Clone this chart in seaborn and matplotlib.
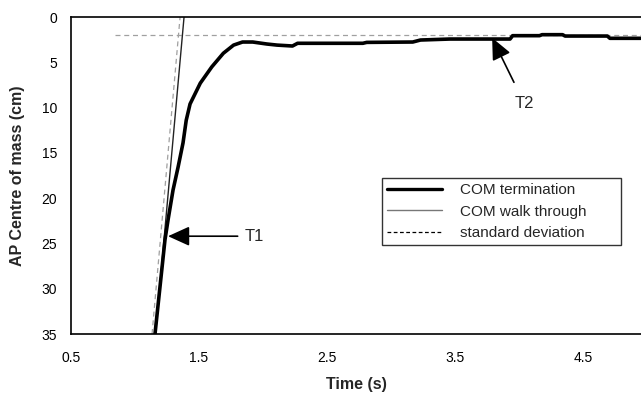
import numpy as np
import pandas as pd
import matplotlib
matplotlib.use("Agg")
import matplotlib.pyplot as plt
from matplotlib.lines import Line2D
import seaborn as sns

# 数据
term_t = [1.156, 1.195, 1.234, 1.258, 1.297, 1.336, 1.375, 1.40, 1.43, 1.51, 1.60, 1.69,
          1.77, 1.84, 1.92, 2.03, 2.11, 2.23, 2.27, 2.78, 2.81, 3.17, 3.23, 3.46, 3.93,
          3.95, 4.16, 4.18, 4.34, 4.36, 4.69, 4.71, 4.95]
term_y = [35, 29.8, 24.6, 22.4, 19.1, 16.6, 13.9, 11.4, 9.6, 7.3, 5.5, 4.0,
          3.1, 2.76, 2.76, 2.98, 3.1, 3.2, 2.9, 2.9, 2.8, 2.76, 2.54, 2.43, 2.43,
          2.06, 2.06, 1.95, 1.95, 2.1, 2.1, 2.35, 2.35]

walk_t = [1.16, 1.383]
walk_y = [35, 0]

sd_walk_t = [1.133, 1.352]
sd_walk_y = [35, 0]

sd_term_t = [0.84, 4.95]
sd_term_y = [2.0, 2.0]

x_ticks = [0.5, 1.5, 2.5, 3.5, 4.5]
y_ticks = [0, 5, 10, 15, 20, 25, 30, 35]

sns.set_style("white")
plt.rcParams['font.family'] = ['Liberation Sans', 'DejaVu Sans']

fig = plt.figure(figsize=(6.41, 3.95), dpi=100)
ax = fig.add_axes([0.1108, 0.1544, 0.8892, 0.8025])

df_term = pd.DataFrame({'t': term_t, 'y': term_y})
df_walk = pd.DataFrame({'t': walk_t, 'y': walk_y})
df_sdw = pd.DataFrame({'t': sd_walk_t, 'y': sd_walk_y})
df_sdt = pd.DataFrame({'t': sd_term_t, 'y': sd_term_y})

sns.lineplot(data=df_sdt, x='t', y='y', ax=ax, color='#a0a0a0', lw=0.9,
             linestyle=(0, (4, 3)), sort=False, estimator=None)
sns.lineplot(data=df_sdw, x='t', y='y', ax=ax, color='#a0a0a0', lw=0.9,
             linestyle=(0, (4, 3)), sort=False, estimator=None)
sns.lineplot(data=df_walk, x='t', y='y', ax=ax, color='#222222', lw=1.0,
             sort=False, estimator=None)
sns.lineplot(data=df_term, x='t', y='y', ax=ax, color='black', lw=2.6,
             sort=False, estimator=None)

ax.set_xlim(0.5, 4.953)
ax.set_ylim(35, 0)
ax.set_xticks(x_ticks)
ax.set_xticklabels([str(v) for v in x_ticks])
ax.set_yticks(y_ticks)
ax.tick_params(axis='both', direction='in', length=3, width=0.8, labelsize=10,
               colors='black')
ax.tick_params(axis='x', pad=12)
ax.tick_params(axis='y', pad=10)
for s in ['left', 'bottom', 'top']:
    ax.spines[s].set_visible(True)
    ax.spines[s].set_color('black')
    ax.spines[s].set_linewidth(1.2)
ax.spines['right'].set_visible(False)

ax.set_xlabel('Time (s)', fontsize=11.5, fontweight='bold', labelpad=9)
ax.set_ylabel('AP Centre of mass (cm)', fontsize=11.5, fontweight='bold', labelpad=12)

# 注释箭头
ax.annotate('T1', xy=(1.258, 24.2), xytext=(1.86, 24.2), fontsize=12,
            va='center', ha='left',
            arrowprops=dict(arrowstyle='-|>,head_length=1.1,head_width=0.5',
                            color='black', lw=1.2, shrinkA=3, shrinkB=0))
ax.annotate('T2', xy=(3.79, 2.3), xytext=(4.04, 9.5), fontsize=12,
            va='center', ha='center',
            arrowprops=dict(arrowstyle='-|>,head_length=1.1,head_width=0.5',
                            color='black', lw=1.2, shrinkA=8, shrinkB=0))

handles = [Line2D([], [], color='black', lw=2.4),
           Line2D([], [], color='#777777', lw=1.0),
           Line2D([], [], color='black', lw=0.9, linestyle=(0, (3, 2)))]
labels = ['COM termination', 'COM walk through', 'standard deviation']
leg = ax.legend(handles, labels, loc='lower left', bbox_to_anchor=(0.546, 0.281, 0.419, 0.202),
                mode='expand', fontsize=11, frameon=True, fancybox=False,
                edgecolor='black', handlelength=3.6, borderpad=0.3,
                labelspacing=0.5, handletextpad=1.2, borderaxespad=0)
leg.get_frame().set_linewidth(1.0)

fig.savefig('out.png', dpi=100)
